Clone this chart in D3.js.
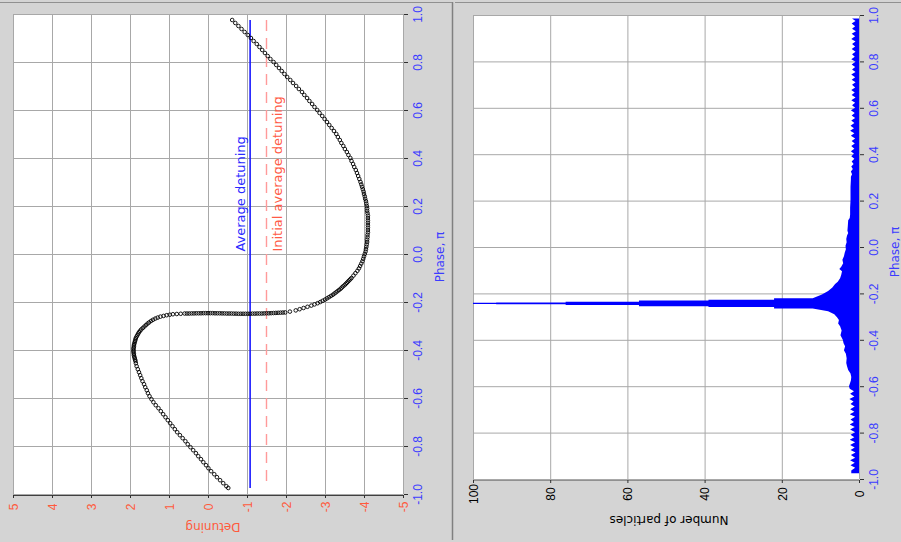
<!DOCTYPE html>
<html><head><meta charset="utf-8">
<script src="https://cdn.jsdelivr.net/npm/d3@7/dist/d3.min.js"></script>
<style>html,body{margin:0;padding:0;background:#d4d4d4;}svg{display:block}</style>
</head><body>
<script>
// ---------- DATA ----------
// particles: [phase (units of pi), detuning]
const curvePoints = [
[0.975,-0.62],[0.9625,-0.70],[0.95,-0.78],[0.9375,-0.86],[0.925,-0.94],[0.9125,-1.02],[0.9,-1.10],[0.8875,-1.17],[0.875,-1.25],[0.8625,-1.32],
[0.85,-1.39],[0.8375,-1.46],[0.825,-1.53],[0.8125,-1.60],[0.8,-1.68],[0.7875,-1.75],[0.775,-1.82],[0.7625,-1.89],[0.75,-1.96],[0.7375,-2.03],
[0.725,-2.11],[0.7125,-2.18],[0.7,-2.26],[0.6875,-2.33],[0.675,-2.41],[0.6625,-2.47],[0.65,-2.54],[0.6375,-2.60],[0.625,-2.67],[0.6125,-2.73],
[0.6,-2.80],[0.5875,-2.86],[0.575,-2.93],[0.5625,-2.99],[0.55,-3.05],[0.5375,-3.11],[0.525,-3.17],[0.5125,-3.23],[0.5,-3.29],[0.4875,-3.33],
[0.475,-3.38],[0.4625,-3.42],[0.45,-3.47],[0.4375,-3.51],[0.425,-3.56],[0.4125,-3.60],[0.4,-3.65],[0.3875,-3.68],[0.375,-3.72],[0.3625,-3.75],
[0.35,-3.79],[0.3375,-3.82],[0.325,-3.85],[0.3125,-3.88],[0.3,-3.91],
[0.29,-3.93],[0.28,-3.95],[0.27,-3.97],[0.26,-3.99],[0.25,-4.00],[0.24,-4.02],[0.23,-4.03],[0.22,-4.05],[0.21,-4.06],[0.20,-4.07],
[0.19,-4.08],[0.18,-4.08],[0.17,-4.09],[0.16,-4.10],[0.15,-4.10],[0.14,-4.10],[0.13,-4.10],[0.12,-4.10],[0.11,-4.10],[0.10,-4.10],
[0.09,-4.10],[0.08,-4.09],[0.07,-4.09],[0.06,-4.08],[0.05,-4.08],[0.04,-4.07],[0.03,-4.06],[0.02,-4.05],[0.01,-4.04],[0.00,-4.02],
[-0.01,-4.00],[-0.02,-3.98],[-0.03,-3.96],[-0.04,-3.93],[-0.05,-3.90],[-0.06,-3.87],[-0.07,-3.83],[-0.08,-3.78],[-0.09,-3.73],[-0.10,-3.68],
[-0.105,-3.65],[-0.11,-3.62],[-0.115,-3.59],[-0.12,-3.56],[-0.125,-3.53],[-0.13,-3.50],[-0.135,-3.46],[-0.14,-3.43],[-0.145,-3.40],[-0.15,-3.36],
[-0.155,-3.32],[-0.16,-3.28],[-0.165,-3.24],[-0.17,-3.20],[-0.175,-3.15],[-0.18,-3.10],[-0.185,-3.05],[-0.19,-3.00],[-0.195,-2.94],[-0.20,-2.88],
[-0.205,-2.81],[-0.21,-2.73],[-0.215,-2.65],[-0.22,-2.55],[-0.225,-2.45],[-0.23,-2.35],[-0.235,-2.25],[-0.24,-2.10],
[-0.2435,-1.98],[-0.244,-1.92],[-0.2445,-1.86],[-0.245,-1.80],[-0.2455,-1.74],[-0.246,-1.68],[-0.2465,-1.62],[-0.247,-1.56],[-0.247,-1.50],[-0.2475,-1.44],
[-0.248,-1.38],[-0.248,-1.32],[-0.248,-1.26],[-0.2485,-1.20],[-0.2485,-1.14],[-0.249,-1.08],[-0.249,-1.02],[-0.249,-0.96],[-0.249,-0.90],[-0.249,-0.84],
[-0.249,-0.78],[-0.2485,-0.72],[-0.2485,-0.66],[-0.248,-0.60],[-0.248,-0.54],[-0.248,-0.48],[-0.2475,-0.42],[-0.2475,-0.36],[-0.247,-0.30],[-0.247,-0.24],
[-0.247,-0.18],[-0.2465,-0.12],[-0.2465,-0.06],[-0.2465,0.00],[-0.2465,0.06],[-0.2465,0.12],[-0.247,0.18],[-0.247,0.24],[-0.247,0.30],[-0.2475,0.36],
[-0.2475,0.42],[-0.248,0.48],[-0.248,0.54],
[-0.248,0.60],[-0.249,0.70],[-0.25,0.80],[-0.251,0.90],[-0.253,0.98],[-0.255,1.06],[-0.258,1.14],[-0.261,1.22],[-0.265,1.29],[-0.269,1.35],
[-0.274,1.41],[-0.279,1.46],[-0.285,1.51],
[-0.29,1.55],[-0.296,1.59],[-0.302,1.63],[-0.308,1.67],[-0.314,1.71],[-0.32,1.74],[-0.326,1.77],[-0.332,1.79],[-0.338,1.81],[-0.344,1.83],
[-0.35,1.85],[-0.356,1.86],[-0.362,1.87],[-0.368,1.88],[-0.374,1.89],[-0.38,1.90],[-0.386,1.90],[-0.392,1.91],[-0.398,1.91],[-0.404,1.91],
[-0.41,1.91],[-0.416,1.90],[-0.422,1.90],[-0.428,1.89],[-0.434,1.88],[-0.44,1.87],[-0.446,1.86],
[-0.455,1.85],[-0.4675,1.83],[-0.48,1.80],[-0.4925,1.77],[-0.505,1.74],[-0.5175,1.71],[-0.53,1.68],[-0.5425,1.64],[-0.555,1.61],[-0.5675,1.57],
[-0.58,1.54],[-0.5925,1.50],[-0.605,1.45],[-0.6175,1.40],[-0.63,1.34],[-0.6425,1.27],[-0.655,1.21],[-0.6675,1.15],[-0.68,1.09],[-0.6925,1.03],
[-0.705,0.97],[-0.7175,0.91],[-0.73,0.85],[-0.7425,0.79],[-0.755,0.72],[-0.7675,0.65],[-0.78,0.58],[-0.7925,0.52],[-0.805,0.45],[-0.8175,0.38],
[-0.83,0.31],[-0.8425,0.25],[-0.855,0.18],[-0.8675,0.12],[-0.88,0.05],[-0.8925,-0.01],[-0.905,-0.08],[-0.9175,-0.16],[-0.93,-0.23],[-0.9425,-0.31],
[-0.955,-0.39],[-0.9675,-0.47],[-0.975,-0.52]
];
const averageDetuning = -1.08;
const initialAverageDetuning = -1.5;
const labelStartPhase = 0.01;

// histogram outline: [phase, number of particles]
const histogram = [
[0.985,0],[0.985,1.8],[0.974,0.9],[0.963,1.9],[0.952,1.0],[0.941,1.8],[0.930,0.8],[0.919,1.9],[0.908,1.0],[0.897,2.0],[0.886,0.9],
[0.875,1.8],[0.864,1.0],[0.853,1.9],[0.842,0.9],[0.831,1.8],[0.820,1.1],[0.809,2.0],[0.798,0.9],[0.787,1.9],[0.776,1.0],
[0.765,1.8],[0.754,0.9],[0.743,2.0],[0.732,1.0],[0.721,1.9],[0.710,0.9],[0.699,1.8],[0.688,1.0],[0.677,2.0],[0.666,1.1],
[0.655,1.9],[0.644,0.9],[0.633,2.0],[0.622,1.0],[0.611,1.8],[0.600,1.0],[0.589,2.1],[0.578,1.1],[0.567,1.9],[0.556,1.0],
[0.545,2.0],[0.534,1.2],[0.523,2.2],[0.512,1.3],[0.501,2.3],[0.490,1.2],[0.479,2.1],[0.468,1.0],[0.457,1.9],[0.446,1.1],
[0.435,2.0],[0.424,1.2],[0.413,2.1],[0.402,1.3],[0.391,2.0],[0.380,1.2],[0.369,1.9],[0.358,1.4],[0.347,2.0],[0.336,1.6],
[0.325,2.1],[0.314,1.8],[0.303,2.1],
[0.29,2.1],[0.26,2.2],[0.23,2.2],[0.20,2.2],[0.17,2.3],[0.14,2.3],[0.125,2.4],
[0.115,2.8],[0.09,2.9],[0.07,3.0],[0.06,2.8],[0.05,3.1],
[0.035,3.3],[0.02,3.2],[0.005,3.5],[-0.01,3.4],[-0.025,3.7],[-0.04,3.9],
[-0.055,4.3],[-0.07,4.1],[-0.085,4.6],[-0.095,5.1],[-0.105,4.4],
[-0.12,4.6],[-0.135,4.9],[-0.15,5.5],[-0.16,6.2],[-0.175,6.9],
[-0.19,8.0],[-0.205,9.6],[-0.2214,12],
[-0.2214,22],[-0.2279,22],[-0.2279,39],[-0.2311,39],[-0.2311,57],[-0.2365,57],[-0.2365,76],[-0.2387,76],[-0.2387,94],[-0.2408,94],[-0.2408,100],
[-0.2452,100],[-0.2452,94],[-0.2473,94],[-0.2473,76],[-0.2495,76],[-0.2495,57],[-0.2549,57],[-0.2549,39],[-0.2581,39],[-0.2581,22],[-0.2646,22],[-0.2646,12],
[-0.277,8.0],[-0.29,6.4],[-0.303,5.7],[-0.315,5.2],[-0.33,5.4],[-0.342,4.9],[-0.36,4.5],[-0.38,4.8],[-0.40,4.2],[-0.415,4.0],
[-0.428,3.6],[-0.445,3.9],[-0.46,3.4],[-0.48,3.2],[-0.50,3.3],[-0.514,3.1],[-0.53,2.8],[-0.545,2.2],[-0.56,2.0],[-0.575,2.1],
[-0.59,2.4],[-0.60,2.6],
[-0.611,2.4],[-0.622,1.3],[-0.633,2.3],[-0.644,1.2],[-0.655,2.5],[-0.666,1.4],[-0.677,2.2],[-0.688,1.1],[-0.699,2.3],[-0.710,1.2],
[-0.721,2.4],[-0.732,1.0],[-0.743,2.2],[-0.754,1.3],[-0.765,2.4],[-0.776,1.1],[-0.787,2.3],[-0.798,1.0],[-0.809,2.2],[-0.820,1.2],
[-0.831,2.4],[-0.842,1.0],[-0.853,2.3],[-0.864,1.1],[-0.875,2.2],[-0.886,0.9],[-0.897,2.1],[-0.908,1.0],[-0.919,2.3],[-0.930,1.1],
[-0.941,2.2],[-0.952,1.0],[-0.963,2.0],[-0.975,2.0],[-0.975,0]
];

const phaseTicks = [-1.0,-0.8,-0.6,-0.4,-0.2,0.0,0.2,0.4,0.6,0.8,1.0];
const detuningTicks = [5,4,3,2,1,0,-1,-2,-3,-4,-5];
const countTicks = [100,80,60,40,20,0];
const detuningTitle = "Detuning";
const phaseTitle = "Phase, \u03c0";
const countTitle = "Number of particles";
const avgLabel = "Average detuning";
const initAvgLabel = "Initial average detuning";

// ---------- DRAW ----------
const W = 901, H = 542;
const svg = d3.select("body").append("svg").attr("width", W).attr("height", H);
svg.append("rect").attr("width", W).attr("height", H).attr("fill", "#d4d4d4");

const BLUE_TXT = "#3c3cff", RED_TXT = "#ff5a3c", GRID = "#a8a8a8";
const tickFont = "'Liberation Sans', Arial, sans-serif";
const labFont = "'DejaVu Sans', Verdana, sans-serif";
const tickSize = 12;

// panel frames
svg.append("line").attr("x1", 452.5).attr("x2", 452.5).attr("y1", 2).attr("y2", 540).attr("stroke", "#808080").attr("stroke-width", 1.5);
svg.append("line").attr("x1", 0).attr("x2", 452).attr("y1", 2.5).attr("y2", 2.5).attr("stroke", "#909090");
svg.append("line").attr("x1", 455).attr("x2", W).attr("y1", 2.5).attr("y2", 2.5).attr("stroke", "#909090");

// ===== Left panel =====
const dX = d3.scaleLinear().domain([5, -5]).range([13, 403]);
const pYL = d3.scaleLinear().domain([-1, 1]).range([494, 14]);
const L = svg.append("g");
L.append("rect").attr("x", dX(5)).attr("y", pYL(1)).attr("width", dX(-5) - dX(5)).attr("height", pYL(-1) - pYL(1)).attr("fill", "#ffffff");
L.selectAll(".gv").data(detuningTicks).join("line")
  .attr("x1", d => dX(d) + 0.5).attr("x2", d => dX(d) + 0.5).attr("y1", pYL(1)).attr("y2", pYL(-1))
  .attr("stroke", GRID).attr("stroke-width", 1);
L.selectAll(".gh").data(phaseTicks).join("line")
  .attr("x1", dX(5)).attr("x2", dX(-5)).attr("y1", d => pYL(d) + 0.5).attr("y2", d => pYL(d) + 0.5)
  .attr("stroke", GRID).attr("stroke-width", 1);

const pExt = d3.extent(curvePoints, d => d[0]);
// average detuning (blue) and initial average detuning (red dashed)
L.append("line").attr("x1", dX(averageDetuning)).attr("x2", dX(averageDetuning))
  .attr("y1", pYL(pExt[1])).attr("y2", pYL(pExt[0])).attr("stroke", "#1a1aff").attr("stroke-width", 1.6);
L.append("line").attr("x1", dX(initialAverageDetuning)).attr("x2", dX(initialAverageDetuning))
  .attr("y1", pYL(pExt[1])).attr("y2", pYL(pExt[0])).attr("stroke", "#ff9a9a").attr("stroke-width", 1.4)
  .attr("stroke-dasharray", "11,7");

L.append("text").attr("transform", `translate(${dX(averageDetuning) - 5},${pYL(labelStartPhase)}) rotate(-90)`)
  .attr("fill", "#2a2aff").attr("font-family", labFont).attr("font-size", 13).text(avgLabel);
L.append("text").attr("transform", `translate(${dX(initialAverageDetuning) + 15},${pYL(labelStartPhase)}) rotate(-90)`)
  .attr("fill", "#ff5a46").attr("font-family", labFont).attr("font-size", 13).text(initAvgLabel);

// particles
L.append("g").selectAll("circle").data(curvePoints).join("circle")
  .attr("cx", d => dX(d[1])).attr("cy", d => pYL(d[0])).attr("r", 1.8)
  .attr("fill", "none").attr("stroke", "#000").attr("stroke-width", 0.9);

// detuning axis (bottom)
const axD = L.append("g").attr("transform", `translate(0,${pYL(-1) + 1})`)
  .call(d3.axisBottom(dX).tickValues(detuningTicks).tickSize(3).tickFormat(d => String(d)));
axD.select(".domain").attr("stroke", "#404040");
axD.selectAll(".tick line").attr("stroke", "#303030");
axD.selectAll(".tick text").attr("x", null).attr("y", null).attr("dy", "0.35em")
  .attr("transform", "translate(0,12) rotate(-90)").attr("text-anchor", "middle")
  .attr("fill", RED_TXT).attr("font-family", tickFont).attr("font-size", tickSize);
L.append("text").attr("transform", `translate(${(dX(5) + dX(-5)) / 2 + 5},527) rotate(180)`)
  .attr("text-anchor", "middle").attr("dy", "0.35em").attr("fill", RED_TXT)
  .attr("font-family", labFont).attr("font-size", 12).text(detuningTitle);

// phase axis (right of left panel)
const axPL = L.append("g").attr("transform", `translate(${dX(-5) + 1},0)`)
  .call(d3.axisRight(pYL).tickValues(phaseTicks).tickSize(4).tickFormat(d => d.toFixed(1)));
axPL.select(".domain").remove();
axPL.selectAll(".tick line").attr("stroke", "#303030");
axPL.selectAll(".tick text").attr("x", null).attr("y", null).attr("dy", "0.35em")
  .attr("transform", "translate(14,0) rotate(-90)").attr("text-anchor", "middle")
  .attr("fill", BLUE_TXT).attr("font-family", tickFont).attr("font-size", tickSize);
L.append("text").attr("transform", `translate(440,257) rotate(-90)`)
  .attr("text-anchor", "middle").attr("dy", "0.35em").attr("fill", BLUE_TXT)
  .attr("font-family", labFont).attr("font-size", 12).text(phaseTitle);

// ===== Right panel =====
const cX = d3.scaleLinear().domain([100, 0]).range([473, 859]);
const pYR = d3.scaleLinear().domain([-1, 1]).range([479, 15]);
const R = svg.append("g");
R.append("rect").attr("x", cX(100)).attr("y", pYR(1)).attr("width", cX(0) - cX(100)).attr("height", pYR(-1) - pYR(1)).attr("fill", "#ffffff");
R.selectAll(".gv").data(countTicks).join("line")
  .attr("x1", d => cX(d) + 0.5).attr("x2", d => cX(d) + 0.5).attr("y1", pYR(1)).attr("y2", pYR(-1))
  .attr("stroke", GRID);
R.selectAll(".gh").data(phaseTicks).join("line")
  .attr("x1", cX(100)).attr("x2", cX(0)).attr("y1", d => pYR(d) + 0.5).attr("y2", d => pYR(d) + 0.5)
  .attr("stroke", GRID);

R.append("clipPath").attr("id", "clipR").append("rect")
  .attr("x", cX(100)).attr("y", pYR(1)).attr("width", cX(0) - cX(100)).attr("height", pYR(-1) - pYR(1));
const area = d3.area().y(d => pYR(d[0])).x0(cX(0)).x1(d => cX(d[1]));
R.append("path").datum(histogram).attr("d", area).attr("fill", "#0000ff").attr("clip-path", "url(#clipR)");

const axC = R.append("g").attr("transform", `translate(0,${pYR(-1) + 1})`)
  .call(d3.axisBottom(cX).tickValues(countTicks).tickSize(3).tickFormat(d => String(d)));
axC.select(".domain").attr("stroke", "#909090");
axC.selectAll(".tick line").attr("stroke", "#303030");
axC.selectAll(".tick text").attr("x", null).attr("y", null).attr("dy", "0.35em")
  .attr("transform", "translate(0,14) rotate(-90)").attr("text-anchor", "middle")
  .attr("fill", "#000").attr("font-family", tickFont).attr("font-size", tickSize);
R.append("text").attr("transform", `translate(${(cX(100) + cX(0)) / 2 + 3},520) rotate(180)`)
  .attr("text-anchor", "middle").attr("dy", "0.35em").attr("fill", "#000")
  .attr("font-family", labFont).attr("font-size", 12).text(countTitle);

const axPR = R.append("g").attr("transform", `translate(${cX(0) + 1},0)`)
  .call(d3.axisRight(pYR).tickValues(phaseTicks).tickSize(4).tickFormat(d => d.toFixed(1)));
axPR.select(".domain").remove();
axPR.selectAll(".tick line").attr("stroke", "#303030");
axPR.selectAll(".tick text").attr("x", null).attr("y", null).attr("dy", "0.35em")
  .attr("transform", "translate(14,0) rotate(-90)").attr("text-anchor", "middle")
  .attr("fill", BLUE_TXT).attr("font-family", tickFont).attr("font-size", tickSize);
R.append("text").attr("transform", `translate(895,252) rotate(-90)`)
  .attr("text-anchor", "middle").attr("dy", "0.35em").attr("fill", BLUE_TXT)
  .attr("font-family", labFont).attr("font-size", 12).text(phaseTitle);
</script>
</body></html>
